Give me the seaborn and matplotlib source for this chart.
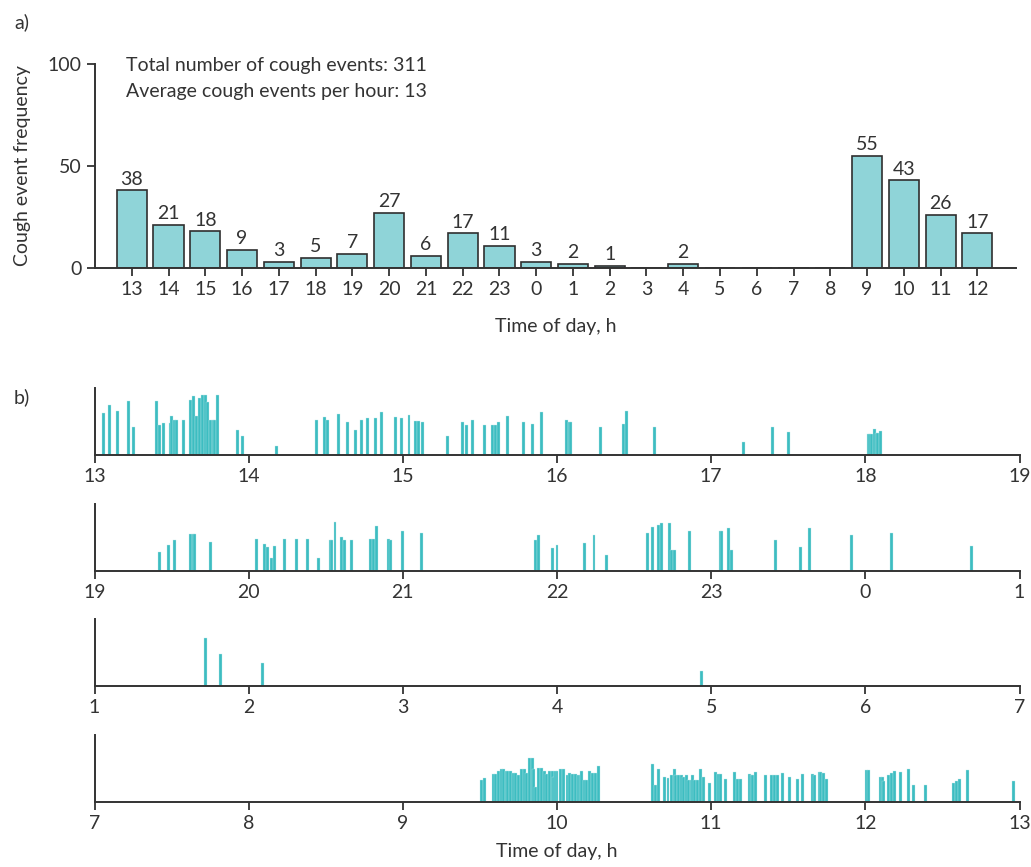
import matplotlib.pyplot as plt
import seaborn as sns
import numpy as np

# -------------------------
# data
# -------------------------

hours = ["13", "14", "15", "16", "17", "18", "19", "20", "21", "22", "23", "0",
         "1", "2", "3", "4", "5", "6", "7", "8", "9", "10", "11", "12"]
counts = [38, 21, 18, 9, 3, 5, 7, 27, 6, 17, 11, 3,
          2, 1, 0, 2, 0, 0, 0, 0, 55, 43, 26, 17]

total_events = 311
avg_per_hour = 13

# cough events (clock time, relative intensity) for each 6 h strip
row1_times = [13.06, 13.10, 13.15, 13.22, 13.25, 13.40, 13.42, 13.45, 13.49, 13.50,
              13.52, 13.53, 13.58, 13.62, 13.64, 13.66, 13.68, 13.70, 13.72, 13.73,
              13.75, 13.77, 13.78, 13.80, 13.93, 13.96, 14.18, 14.44, 14.49, 14.51,
              14.58, 14.64, 14.69, 14.73, 14.77, 14.82, 14.86, 14.95, 14.99, 15.04,
              15.08, 15.10, 15.13, 15.29, 15.39, 15.41, 15.45, 15.53, 15.58, 15.60,
              15.62, 15.68, 15.78, 15.84, 15.90, 16.06, 16.08, 16.09, 16.28, 16.43,
              16.45, 16.63, 17.21, 17.40, 17.50, 18.02, 18.03, 18.04, 18.06, 18.07,
              18.08, 18.10]
row1_heights = [0.62, 0.75, 0.66, 0.81, 0.42, 0.81, 0.45, 0.48, 0.48, 0.58,
                0.52, 0.52, 0.52, 0.82, 0.88, 0.58, 0.85, 0.90, 0.90, 0.79,
                0.52, 0.52, 0.52, 0.90, 0.38, 0.28, 0.14, 0.52, 0.56, 0.52,
                0.61, 0.50, 0.38, 0.52, 0.55, 0.55, 0.64, 0.56, 0.55, 0.60,
                0.51, 0.51, 0.50, 0.28, 0.50, 0.45, 0.52, 0.45, 0.45, 0.45,
                0.50, 0.58, 0.50, 0.46, 0.64, 0.52, 0.50, 0.50, 0.42, 0.46,
                0.66, 0.42, 0.19, 0.42, 0.35, 0.31, 0.31, 0.31, 0.39, 0.33,
                0.33, 0.36]

row2_times = [19.42, 19.48, 19.52, 19.62, 19.64, 19.65, 19.75, 20.05, 20.10, 20.12,
              20.15, 20.17, 20.23, 20.31, 20.38, 20.45, 20.53, 20.54, 20.56, 20.60,
              20.62, 20.67, 20.79, 20.81, 20.83, 20.91, 20.92, 21.00, 21.12, 21.86,
              21.88, 21.97, 22.00, 22.18, 22.24, 22.32, 22.59, 22.62, 22.66, 22.68,
              22.73, 22.74, 22.76, 22.86, 23.06, 23.07, 23.11, 23.13, 23.42, 23.58,
              23.64, 23.91, 0.17, 0.69]
row2_heights = [0.28, 0.39, 0.46, 0.55, 0.55, 0.55, 0.44, 0.48, 0.40, 0.36,
                0.19, 0.38, 0.48, 0.48, 0.48, 0.20, 0.47, 0.47, 0.73, 0.51,
                0.46, 0.46, 0.48, 0.48, 0.67, 0.48, 0.46, 0.60, 0.57, 0.46,
                0.54, 0.34, 0.39, 0.42, 0.54, 0.24, 0.56, 0.66, 0.68, 0.72,
                0.72, 0.31, 0.31, 0.59, 0.59, 0.59, 0.64, 0.32, 0.47, 0.36,
                0.64, 0.53, 0.56, 0.38]

row3_times = [1.72, 1.82, 2.09, 4.94]
row3_heights = [0.72, 0.48, 0.35, 0.23]

row4_times = [9.51, 9.53, 9.59, 9.60, 9.62, 9.64, 9.65, 9.67, 9.68, 9.70,
              9.72, 9.73, 9.75, 9.77, 9.79, 9.80, 9.82, 9.84, 9.85, 9.86,
              9.88, 9.90, 9.92, 9.93, 9.95, 9.97, 9.98, 9.99, 10.00, 10.02,
              10.04, 10.07, 10.08, 10.10, 10.12, 10.14, 10.15, 10.16, 10.18, 10.19,
              10.21, 10.23, 10.25, 10.27, 10.62, 10.64, 10.66, 10.70, 10.72, 10.74,
              10.76, 10.77, 10.79, 10.81, 10.82, 10.84, 10.85, 10.87, 10.88, 10.89,
              10.91, 10.93, 10.95, 10.99, 11.03, 11.05, 11.06, 11.09, 11.15, 11.17,
              11.19, 11.25, 11.26, 11.27, 11.29, 11.35, 11.39, 11.41, 11.43, 11.46,
              11.51, 11.56, 11.59, 11.66, 11.67, 11.70, 11.71, 11.73, 11.75, 12.01,
              12.02, 12.10, 12.11, 12.12, 12.15, 12.17, 12.19, 12.23, 12.28, 12.31,
              12.39, 12.57, 12.59, 12.61, 12.66, 12.96]
row4_heights = [0.33, 0.36, 0.42, 0.42, 0.46, 0.49, 0.49, 0.47, 0.47, 0.47,
                0.44, 0.44, 0.41, 0.49, 0.49, 0.44, 0.66, 0.66, 0.49, 0.22,
                0.51, 0.51, 0.46, 0.42, 0.47, 0.47, 0.37, 0.47, 0.47, 0.49,
                0.49, 0.40, 0.44, 0.42, 0.42, 0.40, 0.41, 0.47, 0.33, 0.33,
                0.47, 0.44, 0.44, 0.54, 0.57, 0.26, 0.49, 0.37, 0.36, 0.41,
                0.49, 0.41, 0.40, 0.40, 0.37, 0.40, 0.33, 0.33, 0.40, 0.33,
                0.33, 0.49, 0.37, 0.28, 0.45, 0.42, 0.42, 0.35, 0.45, 0.35,
                0.35, 0.42, 0.40, 0.40, 0.45, 0.40, 0.40, 0.40, 0.40, 0.43,
                0.37, 0.34, 0.42, 0.42, 0.40, 0.45, 0.45, 0.43, 0.35, 0.48,
                0.48, 0.38, 0.38, 0.31, 0.40, 0.43, 0.46, 0.45, 0.49, 0.26,
                0.26, 0.29, 0.32, 0.35, 0.48, 0.32]

row_starts = [13, 19, 25, 31]
rows = [(row1_times, row1_heights), (row2_times, row2_heights),
        (row3_times, row3_heights), (row4_times, row4_heights)]

# -------------------------
# style
# -------------------------

sns.set_style("ticks")
plt.rcParams["font.family"] = ["Lato", "DejaVu Sans"]
plt.rcParams["font.size"] = 14
ink = "#333333"
plt.rcParams["text.color"] = ink
plt.rcParams["axes.labelcolor"] = ink
plt.rcParams["xtick.color"] = ink
plt.rcParams["ytick.color"] = ink
plt.rcParams["axes.edgecolor"] = ink

W, H = 1031, 867
fig = plt.figure(figsize=(W / 100, H / 100), dpi=100)


def px_axes(x0, y0, x1, y1):
    return fig.add_axes([x0 / W, 1 - y1 / H, (x1 - x0) / W, (y1 - y0) / H])


def style_ax(ax):
    sns.despine(ax=ax)
    for s in ["left", "bottom"]:
        ax.spines[s].set_linewidth(1.4)
    ax.tick_params(direction="out", length=6, width=1.3, labelsize=14)


# -------------------------
# a) hourly histogram
# -------------------------

ax = px_axes(95, 64, 1016, 268)
sns.barplot(x=hours, y=counts, order=hours, color="#8fd4d8", width=0.82,
            edgecolor="#2f2f2f", linewidth=1.2, saturation=1, ax=ax)
ax.bar_label(ax.containers[0], labels=[str(c) if c > 0 else "" for c in counts],
             padding=2, fontsize=14, color=ink)
ax.set_xlim(-1.0, 24.05)
ax.set_ylim(0, 100)
ax.set_yticks([0, 50, 100])
ax.set_ylabel("Cough event frequency", fontsize=14, labelpad=12)
ax.set_xlabel("Time of day, h", fontsize=14, labelpad=14)
style_ax(ax)

fig.text(126 / W, 1 - 66 / H, f"Total number of cough events: {total_events}",
         va="center", fontsize=14)
fig.text(126 / W, 1 - 92 / H, f"Average cough events per hour: {avg_per_hour}",
         va="center", fontsize=14)
fig.text(14 / W, 1 - 22 / H, "a)", va="center", fontsize=14)
fig.text(14 / W, 1 - 397 / H, "b)", va="center", fontsize=14)

# -------------------------
# b) event timelines
# -------------------------

row_px = [(388, 455), (504, 571), (619, 686), (735, 802)]
for i, ((times, heights), start, (top, base)) in enumerate(zip(rows, row_starts, row_px)):
    bx = px_axes(94.5, top, 1019.5, base)
    t = np.array(times)
    t = np.where(t < 13, t + 24, t)
    bx.bar(t, heights, width=0.019, color="#3dbdc1", edgecolor="#bfe9ea",
           linewidth=0.25, align="center")
    bx.set_xlim(start, start + 6)
    bx.set_ylim(0, 1)
    ticks = np.arange(start, start + 7)
    bx.set_xticks(ticks)
    bx.set_xticklabels([str(h % 24) for h in ticks])
    bx.set_yticks([])
    style_ax(bx)
    if i == 3:
        bx.set_xlabel("Time of day, h", fontsize=14, labelpad=8)

plt.savefig("out.png", dpi=100)
